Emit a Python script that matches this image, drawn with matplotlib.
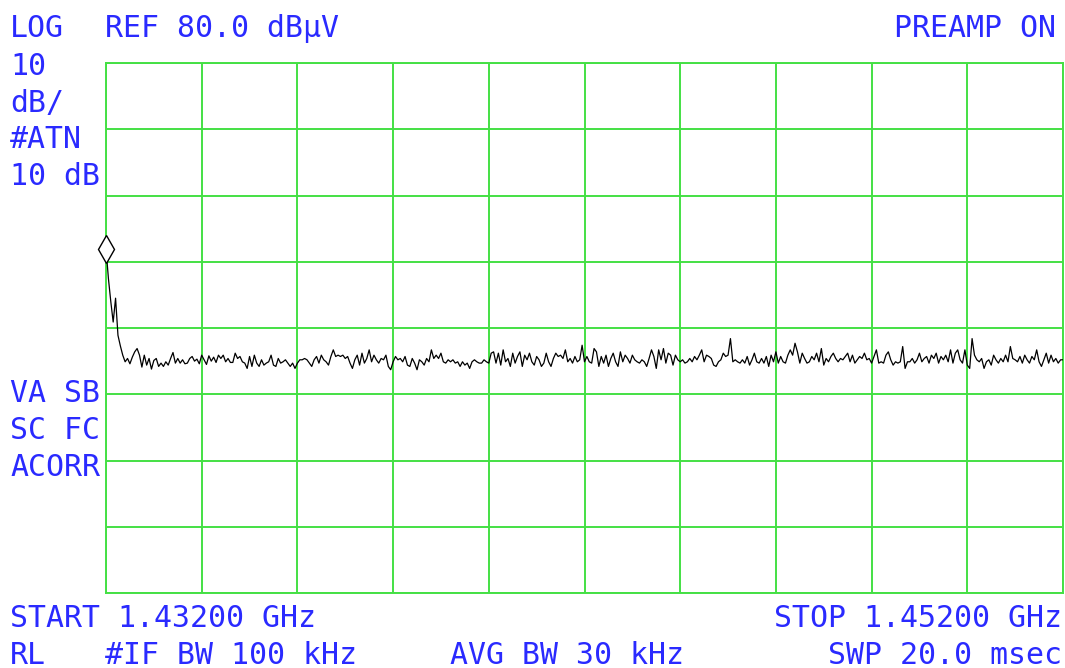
import numpy as np
import matplotlib
matplotlib.use("Agg")
import matplotlib.pyplot as plt

# ---- data (dBµV) ----
start_ghz = 1.432
stop_ghz = 1.452
ref_level = 80.0
db_per_div = 10

trace_head = [52.0, 47.5, 44.0, 40.9, 44.5, 38.9, 37.3, 35.9, 34.9]
trace_seg1 = [35.4, 34.6, 35.6, 36.4, 36.9, 35.9, 34.1, 35.9, 34.4, 35.4,
              33.8, 35.1, 35.4, 34.2, 34.7, 34.2, 34.9, 34.4, 35.4, 36.3,
              34.7, 35.4, 34.7, 35.2, 34.6, 34.7, 35.4, 35.7, 35.0, 35.3,
              34.6, 35.9, 35.2, 34.5, 35.8, 35.0, 35.6, 34.8, 35.9]
trace_seg2 = [35.4, 35.9, 34.9, 35.4, 34.8, 34.8, 36.2, 35.4, 35.7, 34.9,
              34.7, 33.9, 35.7, 34.2, 35.9, 34.7, 34.2, 35.2, 34.4, 34.7,
              34.9, 35.9, 34.4, 34.2, 35.4, 34.7, 34.9, 35.2, 34.7, 34.2,
              34.7, 33.9, 34.7, 35.2, 35.2, 35.4, 35.2, 34.7, 34.2, 35.2,
              35.7, 34.7, 35.9, 35.2, 34.9, 34.4, 35.7, 36.7]
trace_seg3 = [35.7, 35.9, 35.7, 35.9, 35.4, 35.7, 34.7, 33.9, 35.2, 35.9,
              34.4, 36.2, 34.7, 35.4, 36.7, 34.9, 35.9, 35.2, 34.7, 35.4,
              35.2, 35.9, 34.2, 33.7, 34.9, 35.7, 35.2, 35.4, 34.9, 35.7,
              34.4, 34.2, 35.4, 34.7, 33.7, 35.2, 34.9, 34.4, 35.4, 34.9,
              36.7, 35.4, 35.9, 35.4, 36.2, 34.9, 34.7, 35.2]
trace_seg4 = [34.9, 35.2, 34.7, 34.9, 34.2, 34.9, 34.4, 34.7, 33.9, 34.9,
              35.2, 34.9, 34.7, 34.7, 35.2, 34.9, 34.7, 36.2, 36.4, 34.7,
              36.2, 34.4, 36.7, 34.9, 35.4, 34.2, 36.2, 34.7, 35.7, 36.4,
              34.2, 35.9, 35.2, 36.2, 34.9, 34.4, 35.7, 35.2, 34.2, 34.7,
              36.2, 34.9, 34.2, 35.4, 36.2, 35.7, 35.9, 35.4]
trace_seg5 = [36.7, 34.9, 35.4, 34.7, 35.7, 34.9, 35.2, 37.4, 34.9, 35.7,
              34.9, 34.7, 36.9, 36.4, 34.2, 35.7, 34.7, 35.9, 34.2, 35.4,
              36.2, 34.9, 34.2, 36.4, 34.9, 35.9, 35.4, 34.7, 35.9, 35.2,
              34.9, 34.7, 35.2, 34.9, 34.2, 35.4, 36.7, 35.7, 33.9, 36.7,
              35.2, 36.9, 34.7, 36.2, 35.9, 34.4, 35.9, 35.2]
trace_seg6 = [34.9, 35.2, 34.7, 34.9, 35.4, 34.9, 35.7, 35.2, 35.9, 36.7,
              34.9, 35.9, 35.7, 35.4, 34.4, 34.2, 34.9, 35.2, 36.2, 35.7,
              35.9, 38.4, 34.9, 35.2, 34.9, 34.7, 35.2, 34.7, 35.7, 34.4,
              35.2, 36.2, 34.9, 34.7, 35.4, 34.7, 35.7, 34.2, 35.9, 34.9,
              36.4, 34.7, 35.7, 34.9, 34.7, 35.9, 36.7, 35.9]
trace_seg7 = [37.7, 36.4, 34.7, 36.2, 35.4, 34.7, 34.9, 35.7, 35.2, 36.2,
              34.9, 36.9, 34.4, 35.4, 34.9, 35.7, 36.2, 35.4, 34.9, 35.4,
              35.2, 35.7, 36.2, 34.9, 35.9, 34.7, 35.2, 35.7, 35.4, 36.2,
              35.2, 35.4, 34.7, 35.7, 36.7, 34.7, 34.9, 34.7, 35.9, 36.4,
              35.2, 34.4, 34.9, 34.7, 34.9, 37.2, 33.9, 34.9]
trace_seg8 = [34.9, 35.4, 34.7, 35.2, 36.2, 34.9, 35.4, 35.7, 34.7, 35.9,
              35.4, 36.2, 34.7, 35.7, 35.2, 35.9, 34.9, 36.7, 34.7, 36.2,
              36.7, 35.2, 34.7, 36.7, 34.4, 33.9, 38.4,
              35.9, 35.2, 34.9, 35.4, 33.9, 34.9, 35.2, 34.4, 35.9, 35.2,
              34.7, 35.4, 34.9, 35.9, 34.9, 37.2, 35.4, 35.2, 34.9, 35.7,
              34.7, 35.9, 35.2, 34.7, 35.7, 35.2, 36.7, 34.9, 34.2, 35.2,
              36.2, 34.7, 35.9, 34.9, 35.4, 34.7, 35.2, 35.2]

trace = np.array(trace_head + trace_seg1 + trace_seg2 + trace_seg3 + trace_seg4
                 + trace_seg5 + trace_seg6 + trace_seg7 + trace_seg8)
freq = np.linspace(start_ghz, stop_ghz, len(trace))

# ---- figure ----
W, H = 1065, 668
fig = plt.figure(figsize=(W / 100, H / 100), dpi=100)
fig.patch.set_facecolor("white")

L, T, R, B = 106, 63, 1063, 593
ax = fig.add_axes([L / W, 1 - B / H, (R - L) / W, (B - T) / H])
grid_c = "#44e044"
ax.set_xlim(start_ghz, stop_ghz)
ax.set_ylim(ref_level - 8 * db_per_div, ref_level)
ax.set_xticks(np.linspace(start_ghz, stop_ghz, 11))
ax.set_yticks(np.arange(ref_level - 8 * db_per_div, ref_level + 1, db_per_div))
ax.grid(True, color=grid_c, linewidth=1.4)
ax.tick_params(length=0, labelbottom=False, labelleft=False)
for s in ax.spines.values():
    s.set_color(grid_c)
    s.set_linewidth(1.4)
ax.set_facecolor("white")

ax.plot(freq, trace, color="black", linewidth=0.9, zorder=3)
ax.plot([freq[0]], [trace[0]], marker="d", markersize=14, markerfacecolor="white",
        markeredgecolor="black", markeredgewidth=1.0, clip_on=False, zorder=4)

# ---- annotations ----
txt_c = "#2a2aff"
fs = 21.5
fam = "DejaVu Sans Mono"


def put(x, y, s, ha="left"):
    fig.text(x / W, 1 - y / H, s, color=txt_c, fontsize=fs, family=fam,
             ha=ha, va="baseline")


put(10, 37, "LOG")
put(105, 37, "REF 80.0 dBµV")
put(1056, 37, "PREAMP ON", ha="right")
put(10, 75, "10")
put(10, 112, "dB/")
put(10, 148, "#ATN")
put(10, 185, "10 dB")
put(10, 402, "VA SB")
put(10, 439, "SC FC")
put(10, 476, "ACORR")
put(10, 627, "START 1.43200 GHz")
put(1062, 627, "STOP 1.45200 GHz", ha="right")
put(10, 664, "RL")
put(105, 664, "#IF BW 100 kHz")
put(450, 664, "AVG BW 30 kHz")
put(1062, 664, "SWP 20.0 msec", ha="right")

fig.savefig("out.png", dpi=100, facecolor="white")
